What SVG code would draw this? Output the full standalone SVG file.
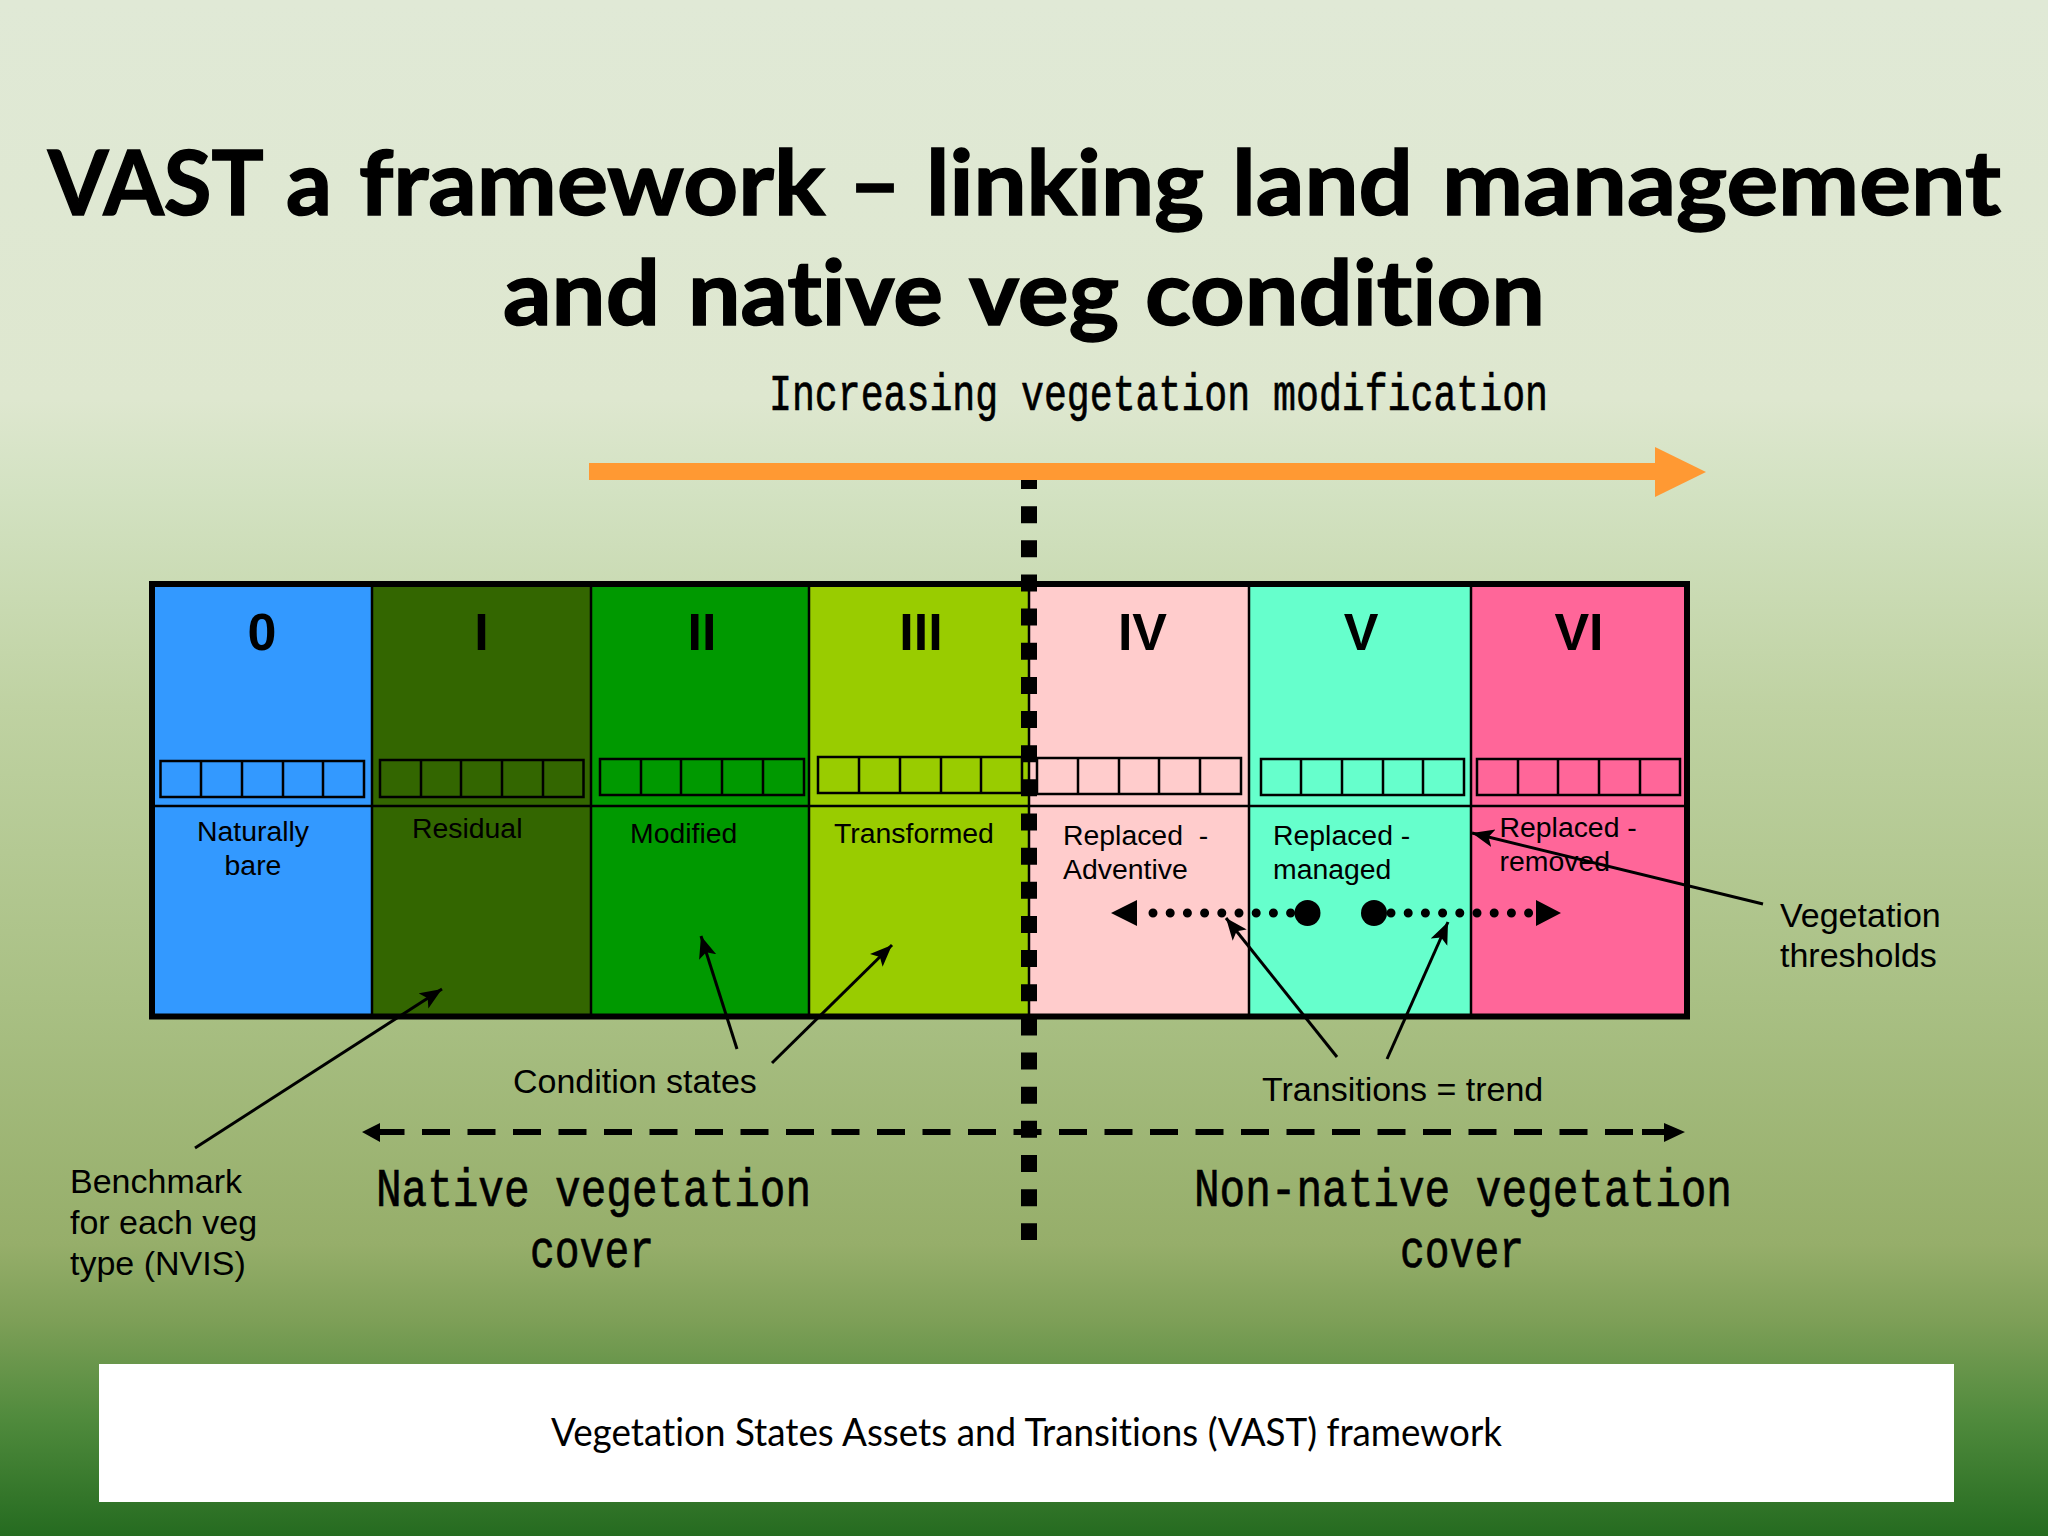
<svg xmlns="http://www.w3.org/2000/svg" width="2048" height="1536" viewBox="0 0 2048 1536">
<style>
.s{fill:none;stroke:#000;stroke-width:2.5}
.a{font-family:"Liberation Sans",Arial,sans-serif;font-size:28.400px;fill:#000}
.b{font-family:"Liberation Sans",Arial,sans-serif;font-size:34px;fill:#000}
.r{font-family:"Liberation Sans",Arial,sans-serif;font-size:52px;font-weight:bold;fill:#000;text-anchor:middle}
.m{font-family:"Liberation Mono",monospace;fill:#000;stroke:#000;stroke-width:0.7}
.t{font-family:"Lato",sans-serif;font-size:90px;font-weight:bold;fill:#000;stroke:#000;stroke-width:1.5;font-variant-ligatures:none}
.l{fill:none;stroke:#000;stroke-width:3}
.d{fill:#000}
</style>
<defs>
<linearGradient id="bg" x1="0" y1="0" x2="0" y2="1">
<stop offset="0" stop-color="#e0e9d6"/>
<stop offset="0.26" stop-color="#dee7cf"/>
<stop offset="0.32" stop-color="#d3e2c2"/>
<stop offset="0.46" stop-color="#bfd2a2"/>
<stop offset="0.65" stop-color="#a9c084"/>
<stop offset="0.81" stop-color="#96ae6a"/>
<stop offset="0.86" stop-color="#7d9f57"/>
<stop offset="0.925" stop-color="#4f8a3c"/>
<stop offset="1" stop-color="#256b20"/>
</linearGradient>
<marker id="ah" markerUnits="userSpaceOnUse" markerWidth="24" markerHeight="20" refX="22" refY="9" orient="auto"><path d="M0 0L22 9L0 18L5 9Z" fill="#000"/></marker>
</defs>
<rect id="background" width="2048" height="1536" fill="url(#bg)"/>
<g id="title">
<text class="t" y="215"><tspan x="48" textLength="213" lengthAdjust="spacingAndGlyphs">VAST</tspan> <tspan x="286" textLength="46" lengthAdjust="spacingAndGlyphs">a</tspan> <tspan x="359" textLength="466" lengthAdjust="spacingAndGlyphs">framework</tspan> <tspan x="849" textLength="52" lengthAdjust="spacingAndGlyphs">–</tspan> <tspan x="926" textLength="278" lengthAdjust="spacingAndGlyphs">linking</tspan> <tspan x="1232" textLength="181" lengthAdjust="spacingAndGlyphs">land</tspan> <tspan x="1442" textLength="559" lengthAdjust="spacingAndGlyphs">management</tspan></text>
<text class="t" y="325"><tspan x="503" textLength="157" lengthAdjust="spacingAndGlyphs">and</tspan> <tspan x="688" textLength="255" lengthAdjust="spacingAndGlyphs">native</tspan> <tspan x="969" textLength="150" lengthAdjust="spacingAndGlyphs">veg</tspan> <tspan x="1145" textLength="400" lengthAdjust="spacingAndGlyphs">condition</tspan></text>
</g>
<text id="axis-label" class="m" x="769" y="410" font-size="52" textLength="779" lengthAdjust="spacingAndGlyphs">Increasing vegetation modification</text>

<g id="col-0"><rect x="151" y="584" width="221" height="432" fill="#3399ff"/><text class="r" x="262" y="650">0</text>
<rect class="s" x="160.500" y="761" width="203.500" height="36"/><path class="s" d="M201 761V797M242 761V797M283 761V797M323 761V797"/>
<text class="a" x="253" y="841" text-anchor="middle">Naturally</text><text class="a" x="253" y="875" text-anchor="middle">bare</text></g>
<g id="col-1"><rect x="372" y="584" width="219" height="432" fill="#336600"/><text class="r" x="481.500" y="650">I</text>
<rect class="s" x="380" y="760" width="203.500" height="37"/><path class="s" d="M421 760V797M461 760V797M502 760V797M543 760V797"/>
<text class="a" x="412" y="838">Residual</text></g>
<g id="col-2"><rect x="591" y="584" width="218" height="432" fill="#009900"/><text class="r" x="702" y="650">II</text>
<rect class="s" x="600" y="759" width="204" height="36"/><path class="s" d="M641 759V795M681 759V795M722 759V795M763 759V795"/>
<text class="a" x="630" y="843">Modified</text></g>
<g id="col-3"><rect x="809" y="584" width="220" height="432" fill="#99cc00"/><text class="r" x="921" y="650">III</text>
<rect class="s" x="818" y="757" width="204" height="36"/><path class="s" d="M859 757V793M900 757V793M941 757V793M981 757V793"/>
<text class="a" x="834" y="843">Transformed</text></g>
<g id="col-4"><rect x="1029" y="584" width="220" height="432" fill="#ffcccc"/><text class="r" x="1142.500" y="650">IV</text>
<rect class="s" x="1037" y="758" width="204" height="36"/><path class="s" d="M1078 758V794M1119 758V794M1159 758V794M1200 758V794"/>
<text class="a" x="1063" y="845" xml:space="preserve">Replaced  -</text><text class="a" x="1063" y="879">Adventive</text></g>
<g id="col-5"><rect x="1249" y="584" width="222" height="432" fill="#66ffcc"/><text class="r" x="1361" y="650">V</text>
<rect class="s" x="1261" y="759" width="203" height="36"/><path class="s" d="M1301 759V795M1342 759V795M1383 759V795M1423 759V795"/>
<text class="a" x="1273" y="845">Replaced -</text><text class="a" x="1273" y="879">managed</text></g>
<g id="col-6"><rect x="1471" y="584" width="216" height="432" fill="#ff6699"/><text class="r" x="1579" y="650">VI</text>
<rect class="s" x="1477" y="759" width="203" height="36"/><path class="s" d="M1518 759V795M1558 759V795M1599 759V795M1640 759V795"/>
<text class="a" x="1499.500" y="837">Replaced -</text><text class="a" x="1499.500" y="871">removed</text></g>

<g id="frame">
<rect x="152" y="584" width="1535" height="432.500" fill="none" stroke="#000" stroke-width="6"/>
<path d="M372 584V1016M591 584V1016M809 584V1016M1029 584V1016M1249 584V1016M1471 584V1016M152 806H1687" fill="none" stroke="#000" stroke-width="2.500"/>
</g>

<g id="connectors">
<path d="M1029 472V1240" stroke="#000" stroke-width="16" stroke-dasharray="17 17.150"/>
<rect x="589" y="463" width="1067" height="17" fill="#ff9933"/><path d="M1655 447L1706 472L1655 497Z" fill="#ff9933"/>
<path d="M404 1132H1642" stroke="#000" stroke-width="6" stroke-dasharray="28 17.500" stroke-dashoffset="-18"/>
<path d="M362 1132L380 1123V1142Z M1685 1132L1664 1123V1142Z" fill="#000"/>
<path d="M380 1132H404M1642 1132H1666" stroke="#000" stroke-width="6"/>
<path class="l" marker-end="url(#ah)" d="M195 1148L442 989"/>
<path class="l" marker-end="url(#ah)" d="M737 1049L701 936"/>
<path class="l" marker-end="url(#ah)" d="M772 1063L892 945"/>
<path class="l" marker-end="url(#ah)" d="M1337 1057L1226 918"/>
<path class="l" marker-end="url(#ah)" d="M1387 1059L1448 922"/>
<path class="l" marker-end="url(#ah)" d="M1763 904L1472 833"/>
<g id="trend">
<ellipse class="d" cx="1307.500" cy="913" rx="13" ry="13"/><ellipse class="d" cx="1374" cy="913" rx="13" ry="13"/>
<path d="M1153 913H1292M1391 913H1530" stroke="#000" stroke-width="9" stroke-linecap="round" stroke-dasharray="0 17.200"/>
<path d="M1111 913L1137 900V926Z M1561 913L1536 900V926Z" fill="#000"/>
</g>
</g>

<text id="lbl-veg1" class="b" x="1780" y="927">Vegetation</text>
<text id="lbl-veg2" class="b" x="1780" y="967">thresholds</text>
<text id="lbl-cond" class="b" x="513" y="1093">Condition states</text>
<text id="lbl-trans" class="b" x="1262" y="1101">Transitions = trend</text>
<g id="lbl-bench"><text class="b" x="70" y="1193">Benchmark</text><text class="b" x="70" y="1234">for each veg</text><text class="b" x="70" y="1275">type (NVIS)</text></g>
<g id="lbl-native"><text class="m" x="376" y="1206" font-size="53" textLength="435" lengthAdjust="spacingAndGlyphs">Native vegetation</text><text class="m" x="530" y="1267" font-size="53" textLength="124" lengthAdjust="spacingAndGlyphs">cover</text></g>
<g id="lbl-nonnative"><text class="m" x="1194" y="1206" font-size="53" textLength="538" lengthAdjust="spacingAndGlyphs">Non-native vegetation</text><text class="m" x="1400" y="1267" font-size="53" textLength="124" lengthAdjust="spacingAndGlyphs">cover</text></g>
<g id="caption"><rect x="99" y="1364" width="1855" height="138" fill="#fff"/>
<text x="551" y="1446" font-family="Lato,sans-serif" font-size="38" fill="#000" textLength="951" lengthAdjust="spacingAndGlyphs" style="font-variant-ligatures:none">Vegetation States Assets and Transitions (VAST) framework</text></g>
</svg>
